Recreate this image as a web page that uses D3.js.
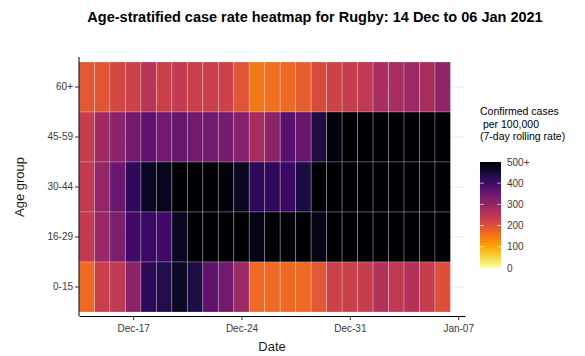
<!DOCTYPE html>
<html>
<head>
<meta charset="utf-8">
<script src="https://cdn.jsdelivr.net/npm/d3@7"></script>
<style>
  body { margin: 0; background: #fff; }
  svg { font-family: "Liberation Sans", Arial, sans-serif; }
</style>
</head>
<body>
<svg id="chart" width="585" height="356"></svg>
<script>
// Dates (one tile per day)
const dates = ['2020-12-14','2020-12-15','2020-12-16','2020-12-17','2020-12-18','2020-12-19',
  '2020-12-20','2020-12-21','2020-12-22','2020-12-23','2020-12-24','2020-12-25',
  '2020-12-26','2020-12-27','2020-12-28','2020-12-29','2020-12-30','2020-12-31',
  '2021-01-01','2021-01-02','2021-01-03','2021-01-04','2021-01-05','2021-01-06'];

// Age groups, top to bottom
const ageGroups = ['60+', '45-59', '30-44', '16-29', '0-15'];

// 7-day rolling rate per 100,000 for each age group
const rate60plus = [190,195,215,225,255,230,240,230,230,225,195,150,160,165,180,210,225,235,245,275,275,290,275,305];
const rate45to59 = [235,285,310,340,365,340,355,340,340,335,315,275,310,370,355,440,490,560,580,590,600,610,590,600];
const rate30to44 = [240,300,350,420,470,475,520,540,530,490,470,420,420,410,445,560,600,620,640,650,640,630,620,610];
const rate16to29 = [240,295,330,400,410,400,470,530,560,570,550,480,520,540,530,480,560,600,620,640,650,640,620,600];
const rate0to15  = [165,230,245,310,420,435,465,440,365,340,290,165,165,165,165,190,225,230,235,260,245,260,235,200];

// Tick labels
const xTickDates = ['2020-12-17', '2020-12-24', '2020-12-31', '2021-01-07'];
const legendTicks = [0, 100, 200, 300, 400, 500];

const parse = d3.timeParse('%Y-%m-%d');
const seriesByGroup = {
  '60+': rate60plus, '45-59': rate45to59, '30-44': rate30to44,
  '16-29': rate16to29, '0-15': rate0to15
};
const cells = [];
ageGroups.forEach(g => {
  seriesByGroup[g].forEach((v, i) => cells.push({ group: g, date: parse(dates[i]), value: v }));
});

const svg = d3.select('#chart');

// Panel geometry
const panel = { left: 79, right: 465, top: 57, bottom: 316 };

// Scales
const dayMs = 864e5;
const x = d3.scaleTime()
  .domain([new Date(parse('2020-12-14') - dayMs / 2), new Date(+parse('2020-12-14') + 24.44 * dayMs)])
  .range([panel.left, panel.right]);
const y = d3.scaleBand().domain(ageGroups).range([62, 312]).padding(0);
const color = v => d3.interpolateInferno(1 - Math.min(v, 500) / 500);

// Grid lines (only visible beyond the tiles)
svg.append('g')
  .selectAll('line')
  .data(ageGroups)
  .join('line')
  .attr('x1', panel.left).attr('x2', panel.right)
  .attr('y1', d => y(d) + y.bandwidth() / 2)
  .attr('y2', d => y(d) + y.bandwidth() / 2)
  .attr('stroke', '#ebebeb')
  .attr('stroke-width', 1);

// Tiles
const tileW = x(parse('2020-12-15')) - x(parse('2020-12-14'));
svg.append('g')
  .selectAll('rect')
  .data(cells)
  .join('rect')
  .attr('x', d => x(d.date) - tileW / 2)
  .attr('y', d => y(d.group))
  .attr('width', tileW)
  .attr('height', y.bandwidth())
  .attr('fill', d => color(d.value))
  .attr('stroke', 'rgba(255,255,255,0.3)')
  .attr('stroke-width', 0.8);

// Axes
const xAxis = d3.axisBottom(x)
  .tickValues(xTickDates.map(parse))
  .tickFormat(d3.timeFormat('%b-%d'))
  .tickSize(4)
  .tickSizeOuter(0);
const xg = svg.append('g')
  .attr('transform', `translate(0,${panel.bottom})`)
  .call(xAxis);
xg.select('.domain').attr('stroke', '#000');
xg.selectAll('.tick line').attr('stroke', '#333');
xg.selectAll('.tick text')
  .attr('fill', '#3a3a3a')
  .attr('font-size', 10)
  .attr('dy', '0.9em');

const yAxis = d3.axisLeft(y).tickSize(4).tickSizeOuter(0);
const yg = svg.append('g')
  .attr('transform', `translate(${panel.left},0)`)
  .call(yAxis);
yg.select('.domain').attr('d', `M0,${panel.top}V${panel.bottom}`).attr('stroke', '#000');
yg.selectAll('.tick line').attr('stroke', '#333');
yg.selectAll('.tick text')
  .attr('fill', '#3a3a3a')
  .attr('font-size', 10)
  .attr('x', -6);

// Axis titles
svg.append('text')
  .attr('x', 272).attr('y', 351)
  .attr('text-anchor', 'middle')
  .attr('font-size', 13)
  .attr('fill', '#222')
  .text('Date');

svg.append('text')
  .attr('transform', 'translate(24,187) rotate(-90)')
  .attr('text-anchor', 'middle')
  .attr('font-size', 13)
  .attr('fill', '#222')
  .text('Age group');

// Title
svg.append('text')
  .attr('x', 315).attr('y', 22)
  .attr('text-anchor', 'middle')
  .attr('font-size', 14.5)
  .attr('font-weight', 'bold')
  .attr('fill', '#000')
  .text('Age-stratified case rate heatmap for Rugby: 14 Dec to 06 Jan 2021');

// Legend
const legendTitle = ['Confirmed cases', ' per 100,000', '(7-day rolling rate)'];
svg.append('text')
  .attr('font-size', 10.5)
  .attr('fill', '#000')
  .selectAll('tspan')
  .data(legendTitle)
  .join('tspan')
  .attr('x', 480)
  .attr('y', (d, i) => 115 + i * 12.5)
  .attr('xml:space', 'preserve')
  .style('white-space', 'pre')
  .text(d => d);

const barX = 480, barW = 21;
const ly = d3.scaleLinear().domain([0, 500]).range([268, 162]);

const defs = svg.append('defs');
const grad = defs.append('linearGradient')
  .attr('id', 'legend-grad')
  .attr('x1', 0).attr('y1', 1).attr('x2', 0).attr('y2', 0);
grad.selectAll('stop')
  .data(d3.range(0, 1.0001, 0.05))
  .join('stop')
  .attr('offset', d => d)
  .attr('stop-color', d => color(d * 500));

svg.append('rect')
  .attr('x', barX).attr('y', ly(500))
  .attr('width', barW).attr('height', ly(0) - ly(500))
  .attr('fill', 'url(#legend-grad)');

const inner = legendTicks.filter(t => t > 0 && t < 500);
svg.append('g')
  .selectAll('path')
  .data(inner)
  .join('path')
  .attr('d', d => `M${barX},${ly(d)}h4M${barX + barW - 4},${ly(d)}h4`)
  .attr('stroke', 'rgba(255,255,255,0.6)')
  .attr('stroke-width', 1);

svg.append('g')
  .selectAll('text')
  .data(legendTicks)
  .join('text')
  .attr('x', 507)
  .attr('y', d => ly(d))
  .attr('dy', '0.35em')
  .attr('font-size', 10)
  .attr('fill', '#3a3a3a')
  .text(d => d === 500 ? '500+' : d);
</script>
</body>
</html>
